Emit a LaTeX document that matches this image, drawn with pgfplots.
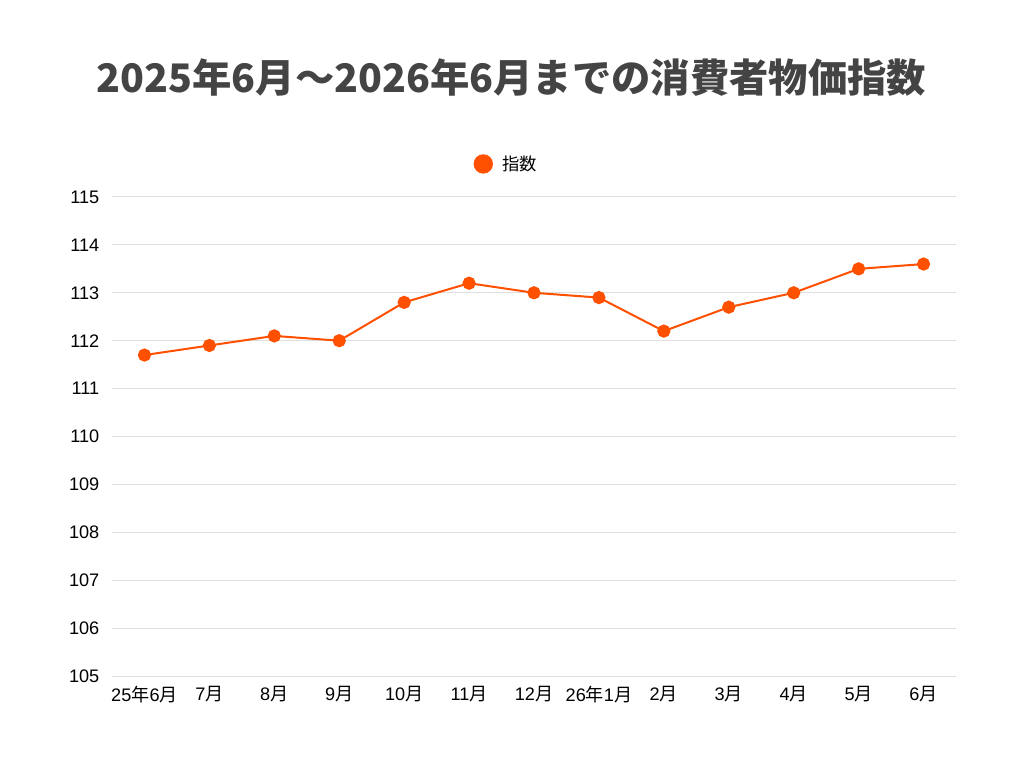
\documentclass[border=0pt]{standalone}
\usepackage{pgfplots}
\pgfplotsset{compat=1.18}
\usepackage{fontspec}
\setmainfont{Liberation Sans}
\newfontfamily\cjk{Noto Sans CJK JP}
\definecolor{lineorange}{RGB}{255,80,0}
\definecolor{gridgray}{RGB}{223,223,223}
\definecolor{titlegray}{RGB}{68,68,68}
\newcommand{\nen}{{\cjk 年}}
\newcommand{\tsuki}{{\cjk 月}}
\begin{document}
\begin{tikzpicture}
\useasboundingbox (0,0) rectangle (768pt,576pt);
\node[font=\cjk\fontsize{29.5}{34}\selectfont\bfseries, text=titlegray] at (383.5pt,518pt) {2025年6月〜2026年6月までの消費者物価指数};
\begin{axis}[
  at={(84pt,69pt)}, anchor=south west,
  scale only axis, width=633pt, height=359.25pt,
  xmin=-0.5, xmax=12.5, ymin=105, ymax=115,
  xtick={0,...,12},
  xticklabels={25\nen6\tsuki,7\tsuki,8\tsuki,9\tsuki,10\tsuki,11\tsuki,12\tsuki,26\nen1\tsuki,2\tsuki,3\tsuki,4\tsuki,5\tsuki,6\tsuki},
  ytick={105,...,115},
  axis line style={draw=none},
  tick style={draw=none},
  ymajorgrids, grid style={gridgray, line width=0.75pt},
  tick label style={font=\fontsize{13.6}{15}\selectfont, text=black},
  /pgf/number format/assume math mode=true,
  yticklabel style={xshift=-6pt},
  xticklabel style={yshift=-4pt},
  legend style={at={(0.467,1.069)}, anchor=center, draw=none, fill=none, font=\cjk\fontsize{13}{15}\selectfont},
  legend image code/.code={\fill[lineorange] (0.25cm,0cm) circle (6.5pt); \path (0cm,0cm) (0.65cm,0cm);},
]
\addplot[lineorange, line width=1.5pt, mark=*, mark size=4.2pt, mark options={fill=lineorange, draw=lineorange}] coordinates {
(0,111.7) (1,111.9) (2,112.1) (3,112.0) (4,112.8) (5,113.2) (6,113.0) (7,112.9) (8,112.2) (9,112.7) (10,113.0) (11,113.5) (12,113.6)
};
\addlegendentry{指数}
\end{axis}
\end{tikzpicture}
\end{document}
